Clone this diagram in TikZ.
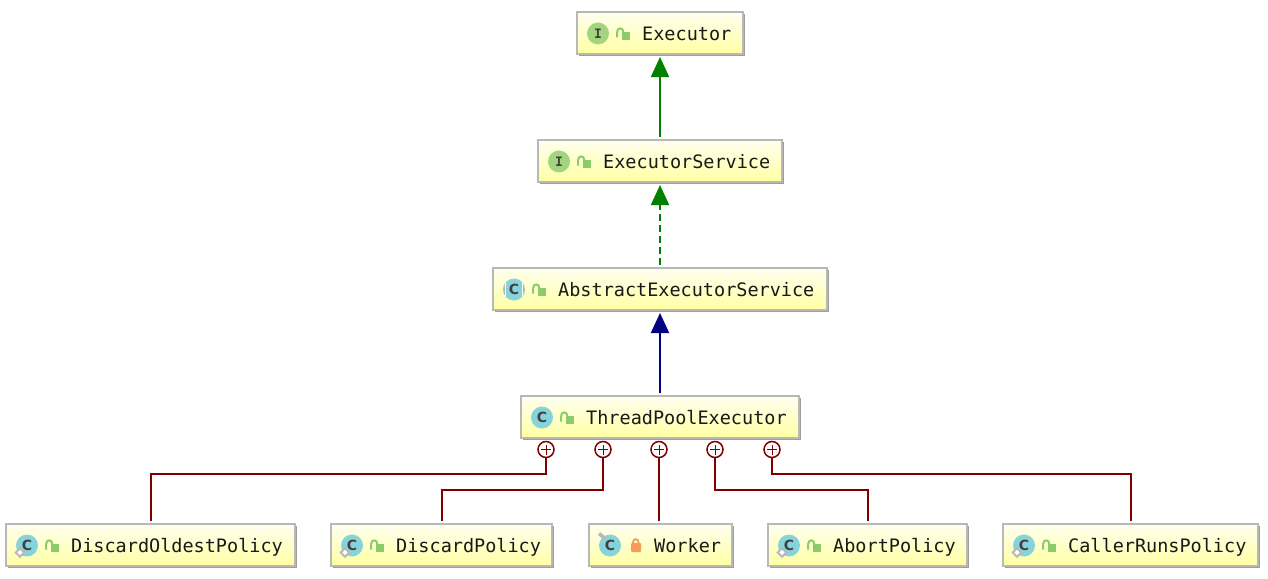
\documentclass[tikz,border=0pt]{standalone}
\usepackage{fontspec}
\usepackage{xcolor}
\usepackage{tikz}
\usetikzlibrary{positioning, arrows.meta, shadows}
\setmonofont{DejaVu Sans Mono}
\setsansfont{DejaVu Sans}

\definecolor{boxedge}{HTML}{B8B8B8}
\definecolor{classblue}{HTML}{87D3DB}
\definecolor{ifacegreen}{HTML}{A3D57F}
\definecolor{lockgreen}{HTML}{8DCB6A}
\definecolor{lockorange}{HTML}{F79A56}
\definecolor{extendgreen}{HTML}{008000}
\definecolor{extendnavy}{HTML}{000080}
\definecolor{innerred}{HTML}{800000}

\tikzset{
    classbox/.style={draw=boxedge, line width=2pt, top color=yellow!6, bottom color=yellow!36,
        minimum height=42pt, inner sep=0pt, anchor=west,
        drop shadow={shadow xshift=1.8pt, shadow yshift=-1.8pt, fill=black!38, opacity=1}},
    classtext/.style={font=\ttfamily\fontsize{18.5}{20}\selectfont, anchor=west, inner sep=0pt,
        text=black!90, text height=18pt, text depth=3pt},
    classicon/.style={circle, minimum size=22pt, inner sep=0pt, text=black!75,
        font=\sffamily\bfseries\fontsize{14}{14}\selectfont},
    plusmark/.style={circle, draw=innerred, fill=white, line width=1.5pt, minimum size=16pt, inner sep=0pt},
    implline/.style={extendgreen, line width=2pt, shorten <=2pt, shorten >=2pt,
        -{Triangle[length=20pt, width=18pt]}},
    extline/.style={extendnavy, line width=2pt, shorten <=2pt, shorten >=2pt,
        -{Triangle[length=20pt, width=18pt]}},
    innerline/.style={innerred, line width=2pt, shorten >=2.5pt},
}

\begin{document}
\begin{tikzpicture}[x=1pt, y=-1pt]
    \useasboundingbox (0,0) rectangle (1268,578);

    \foreach \name/\txt/\lft/\wid/\mid/\ltr/\col in {
        executor/Executor/576/166/33/{\ttfamily\bfseries\fontsize{13}{13}\selectfont I}/ifacegreen,
        execservice/ExecutorService/537/244/161/{\ttfamily\bfseries\fontsize{13}{13}\selectfont I}/ifacegreen,
        abstractexec/AbstractExecutorService/492/334/289/C/classblue,
        threadpool/ThreadPoolExecutor/520/278/417/C/classblue,
        discardoldest/DiscardOldestPolicy/5/289/545/C/classblue,
        discard/DiscardPolicy/330/221/545/C/classblue,
        worker/Worker/588/143/545/C/classblue,
        abort/AbortPolicy/767/199/545/C/classblue,
        callerruns/CallerRunsPolicy/1002/255/545/C/classblue} {
        \node[classbox, minimum width=\wid pt] (\name) at (\lft,\mid) {};
        \node[classicon, fill=\col, xshift=22pt, yshift=-0.5pt] (\name-icon) at (\name.west) {\ltr};
        \node[classtext, xshift=66pt] (\name-text) at (\name.west) {\txt};
    }

    % open locks
    \foreach \name in {executor,execservice,abstractexec,threadpool,discardoldest,discard,abort,callerruns} {
        \begin{scope}[shift={(\name.west)}]
            \fill[lockgreen] (46,-1) rectangle (54,7);
            \draw[lockgreen, line width=2pt] (41,4.5) -- (41,-0.5) .. controls (41,-6) and (47.5,-6) .. (47.5,-0.5);
        \end{scope}
    }

    % closed lock
    \begin{scope}[shift={(worker.west)}]
        \draw[lockorange, line width=1.8pt] (45,0.5) -- (45,-2.5) .. controls (45,-7) and (50.5,-7) .. (50.5,-2.5) -- (50.5,0.5);
        \fill[lockorange, rounded corners=1pt] (43,-2) rectangle (53,7);
    \end{scope}

    % abstract class brackets
    \begin{scope}
        \clip (abstractexec-icon.center) circle [radius=11pt];
        \fill[white] ([shift={(-11,-11)}]abstractexec-icon.center) rectangle ([shift={(-8,11)}]abstractexec-icon.center);
        \fill[white] ([shift={(8,-11)}]abstractexec-icon.center) rectangle ([shift={(11,11)}]abstractexec-icon.center);
        \fill[boxedge] ([shift={(-11,-11)}]abstractexec-icon.center) rectangle ([shift={(-8.7,11)}]abstractexec-icon.center);
        \fill[boxedge] ([shift={(8.7,-11)}]abstractexec-icon.center) rectangle ([shift={(11,11)}]abstractexec-icon.center);
    \end{scope}

    % static marks
    \foreach \name in {discardoldest,discard,abort,callerruns} {
        \node[draw=boxedge, fill=white, line width=2pt, rotate=45, minimum size=6pt, inner sep=0pt]
            (\name-static) at ([shift={(-7,7)}]\name-icon.center) {};
    }

    % non static pin
    \draw[boxedge, line width=3.5pt] ([shift={(-11,-12)}]worker-icon.center) -- ([shift={(-5,-7)}]worker-icon.center);

    \draw[implline] (execservice.north) -- (executor.south);
    \draw[implline, dash pattern=on 7pt off 4pt] (abstractexec.north) -- (execservice.south);
    \draw[extline] (threadpool.north) -- (abstractexec.south);

    \foreach \name/\x in {plusa/546, plusb/603, plusc/659, plusd/715, pluse/772} {
        \node[plusmark] (\name) at (\x,449.5) {};
        \draw[innerred, line width=1pt] ([xshift=-5pt]\name.center) -- ([xshift=5pt]\name.center);
        \draw[innerred, line width=1pt] ([yshift=-5pt]\name.center) -- ([yshift=5pt]\name.center);
    }

    \draw[innerline] (plusa.south) -- ++(0,15.5) -| (discardoldest.north);
    \draw[innerline] (plusb.south) -- ++(0,31.5) -| (discard.north);
    \draw[innerline] (plusc.south) -- (plusc.south |- worker.north);
    \draw[innerline] (plusd.south) -- ++(0,31.5) -| (abort.north);
    \draw[innerline] (pluse.south) -- ++(0,15.5) -| (callerruns.north);
\end{tikzpicture}
\end{document}
